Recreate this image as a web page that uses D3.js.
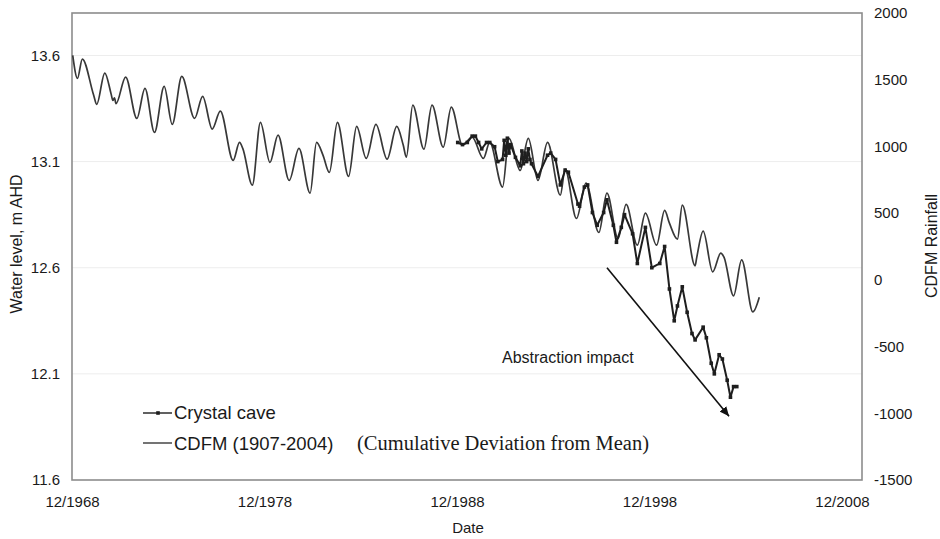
<!DOCTYPE html>
<html>
<head>
<meta charset="utf-8">
<script src="https://cdn.jsdelivr.net/npm/d3@7"></script>
<style>
  body { margin: 0; background: #fff; }
  svg { display: block; }
</style>
</head>
<body>
<svg id="chart" width="940" height="539"></svg>
<script>
// CDFM rainfall (cumulative deviation from mean, 1907-2004 base), right axis
const cdfmDates = [
  "1968-12","1969-03","1969-06","1970-01","1970-03","1970-08","1970-12","1971-01","1971-02","1971-03",
  "1971-09","1972-04","1972-09","1973-03","1973-09","1974-02","1974-08","1975-04","1975-09","1976-03",
  "1976-08","1977-04","1977-08","1977-10","1978-04","1978-09","1979-03","1979-08","1980-03","1980-09",
  "1981-04","1981-08","1981-12","1982-04","1982-09","1983-04","1983-09","1984-03","1984-09","1985-04",
  "1985-10","1986-02","1986-04","1986-08","1987-03","1987-08","1988-03","1988-08","1989-03","1989-09",
  "1990-04","1990-08","1991-04","1991-08","1992-03","1992-08","1993-02","1993-08","1994-04","1994-07",
  "1995-02","1995-08","1996-04","1996-09","1997-04","1997-09","1998-04","1998-09","1999-04","1999-09",
  "1999-12","2000-05","2000-08","2001-04","2001-05","2001-09","2002-03","2002-08","2002-10","2003-04",
  "2003-09","2004-04","2004-08"
];
const cdfmValues = [
  1683,1510,1655,1385,1315,1550,1390,1345,1365,1320,
  1520,1210,1435,1105,1450,1165,1525,1210,1375,1130,
  1265,895,1030,985,710,1180,880,1085,745,985,
  650,1030,935,805,1180,775,1150,910,1165,905,
  1150,1010,920,1310,980,1310,995,1295,1010,1070,
  910,1030,695,1060,820,1060,745,1030,635,830,
  460,725,355,650,310,565,260,500,260,520,
  425,305,560,105,165,365,60,200,170,-120,
  150,-240,-130
];

// Crystal Cave water level (m AHD), left axis
const caveDates = [
  "1988-12","1989-03","1989-06","1989-09","1989-11","1990-01","1990-03","1990-06","1990-08","1990-11",
  "1991-01","1991-04","1991-05","1991-06","1991-07","1991-08","1991-09","1991-12","1992-03","1992-04",
  "1992-05","1992-06","1992-07","1992-08","1992-09","1992-10","1993-02","1993-08","1993-10","1994-01",
  "1994-04","1994-07","1994-09","1995-03","1995-04","1995-07","1995-09","1995-12","1996-03","1996-07",
  "1996-09","1997-01","1997-03","1997-06","1997-08","1998-01","1998-04","1998-09","1999-01","1999-06",
  "1999-09","1999-12","2000-03","2000-05","2000-08","2000-11","2001-02","2001-04","2001-09","2001-11",
  "2002-02","2002-04","2002-07","2002-09","2002-12","2003-02","2003-04","2003-06"
];
const caveLevels = [
  13.19,13.18,13.19,13.22,13.22,13.19,13.16,13.19,13.19,13.17,
  13.10,13.11,13.20,13.13,13.21,13.14,13.18,13.12,13.08,13.15,
  13.09,13.14,13.10,13.16,13.11,13.09,13.03,13.13,13.14,13.11,
  12.99,13.06,13.05,12.90,12.89,12.98,12.99,12.86,12.80,12.86,
  12.92,12.80,12.72,12.79,12.85,12.76,12.62,12.79,12.60,12.62,
  12.70,12.50,12.35,12.42,12.51,12.39,12.29,12.26,12.32,12.27,
  12.15,12.10,12.19,12.17,12.07,11.99,12.04,12.04
];

const leftTicks = [11.6, 12.1, 12.6, 13.1, 13.6];
const rightTicks = [-1500, -1000, -500, 0, 500, 1000, 1500, 2000];
const xTickLabels = ["12/1968", "12/1978", "12/1988", "12/1998", "12/2008"];

// Annotation arrow endpoints: [date, water level]
const arrowFrom = ["1996-09-16", 12.60];
const arrowTo = ["2003-01-19", 11.90];

const SANS = '"Liberation Sans", Arial, sans-serif';
const SERIF = '"Liberation Serif", "Times New Roman", serif';
const INK = "#1a1a1a";

const parseDay = d3.timeParse("%Y-%m-%d");
const monthDate = s => parseDay(s + "-15");
const parseTick = d3.timeParse("%m/%Y");

const svg = d3.select("#chart");
const plot = { left: 72, right: 862, top: 13, bottom: 480 };

const x = d3.scaleTime()
  .domain([new Date(1968, 11, 1), new Date(2009, 11, 16)])
  .range([plot.left, plot.right]);
const yL = d3.scaleLinear().domain([11.6, 13.8]).range([plot.bottom, plot.top]);
const yR = d3.scaleLinear().domain([-1500, 2000]).range([plot.bottom, plot.top]);

function label(sel, size, family) {
  return sel.style("font-family", family || SANS).style("font-size", size + "px").style("fill", INK);
}

// faint horizontal gridlines at the water-level ticks
svg.append("g").selectAll("line")
  .data(leftTicks.slice(1))
  .join("line")
  .attr("x1", plot.left).attr("x2", plot.right)
  .attr("y1", d => yL(d)).attr("y2", d => yL(d))
  .attr("stroke", "#ededed").attr("stroke-width", 1);

// plot frame
svg.append("rect")
  .attr("x", plot.left).attr("y", plot.top)
  .attr("width", plot.right - plot.left).attr("height", plot.bottom - plot.top)
  .attr("fill", "none").attr("stroke", "#8c8c8c").attr("stroke-width", 1.6);

// axes (labels only)
const axL = svg.append("g").attr("transform", `translate(${plot.left},0)`)
  .call(d3.axisLeft(yL).tickValues(leftTicks).tickSize(0).tickPadding(12).tickFormat(d3.format(".1f")));
const axR = svg.append("g").attr("transform", `translate(${plot.right},0)`)
  .call(d3.axisRight(yR).tickValues(rightTicks).tickSize(0).tickPadding(12).tickFormat(d => String(d)));
const axB = svg.append("g").attr("transform", `translate(0,${plot.bottom})`)
  .call(d3.axisBottom(x).tickValues(xTickLabels.map(parseTick)).tickSize(0).tickPadding(16)
    .tickFormat(d3.timeFormat("%m/%Y")));
[axL, axR, axB].forEach(g => {
  g.select(".domain").remove();
  label(g.selectAll("text"), 15);
});

// axis titles
label(svg.append("text").attr("transform", "translate(22,244) rotate(-90)")
  .attr("text-anchor", "middle"), 16).text("Water level, m AHD");
label(svg.append("text").attr("transform", "translate(937,246) rotate(-90)")
  .attr("text-anchor", "middle"), 16).text("CDFM Rainfall");
label(svg.append("text").attr("x", 468).attr("y", 533)
  .attr("text-anchor", "middle"), 15).text("Date");

// CDFM line
const cdfm = cdfmDates.map((d, i) => ({ date: monthDate(d), v: cdfmValues[i] }));
svg.append("path")
  .datum(cdfm)
  .attr("fill", "none").attr("stroke", "#383838").attr("stroke-width", 1.7)
  .attr("stroke-linejoin", "round")
  .attr("d", d3.line().x(d => x(d.date)).y(d => yR(d.v)).curve(d3.curveMonotoneX));

// Crystal Cave line with markers
const cave = caveDates.map((d, i) => ({ date: monthDate(d), v: caveLevels[i] }));
svg.append("path")
  .datum(cave)
  .attr("fill", "none").attr("stroke", "#1e1e1e").attr("stroke-width", 2)
  .attr("stroke-linejoin", "round")
  .attr("d", d3.line().x(d => x(d.date)).y(d => yL(d.v)));
svg.append("g").selectAll("rect")
  .data(cave)
  .join("rect")
  .attr("x", d => x(d.date) - 1.8).attr("y", d => yL(d.v) - 1.8)
  .attr("width", 3.6).attr("height", 3.6).attr("fill", "#1e1e1e");

// abstraction arrow
svg.append("defs").append("marker")
  .attr("id", "head").attr("viewBox", "0 0 10 10")
  .attr("refX", 10).attr("refY", 5)
  .attr("markerWidth", 6).attr("markerHeight", 6)
  .attr("markerUnits", "strokeWidth")
  .attr("orient", "auto")
  .append("path").attr("d", "M0,0.5 L10,5 L0,9.5 Z").attr("fill", "#111");
svg.append("line")
  .attr("x1", x(parseDay(arrowFrom[0]))).attr("y1", yL(arrowFrom[1]))
  .attr("x2", x(parseDay(arrowTo[0]))).attr("y2", yL(arrowTo[1]))
  .attr("stroke", "#111").attr("stroke-width", 1.6)
  .attr("marker-end", "url(#head)");
label(svg.append("text").attr("x", 502).attr("y", 363), 16).text("Abstraction impact");

// legend
const lg = svg.append("g");
lg.append("line").attr("x1", 143).attr("x2", 172).attr("y1", 413).attr("y2", 413)
  .attr("stroke", "#1e1e1e").attr("stroke-width", 1.4);
lg.append("rect").attr("x", 156.2).attr("y", 411.2).attr("width", 3.6).attr("height", 3.6).attr("fill", "#1e1e1e");
label(lg.append("text").attr("x", 174).attr("y", 419), 18.5).text("Crystal cave");
lg.append("line").attr("x1", 143).attr("x2", 172).attr("y1", 443).attr("y2", 443)
  .attr("stroke", "#383838").attr("stroke-width", 1.4);
label(lg.append("text").attr("x", 174).attr("y", 450), 18.5).text("CDFM (1907-2004)");
label(lg.append("text").attr("x", 357).attr("y", 450), 20.5, SERIF)
  .text("(Cumulative Deviation from Mean)");
</script>
</body>
</html>
